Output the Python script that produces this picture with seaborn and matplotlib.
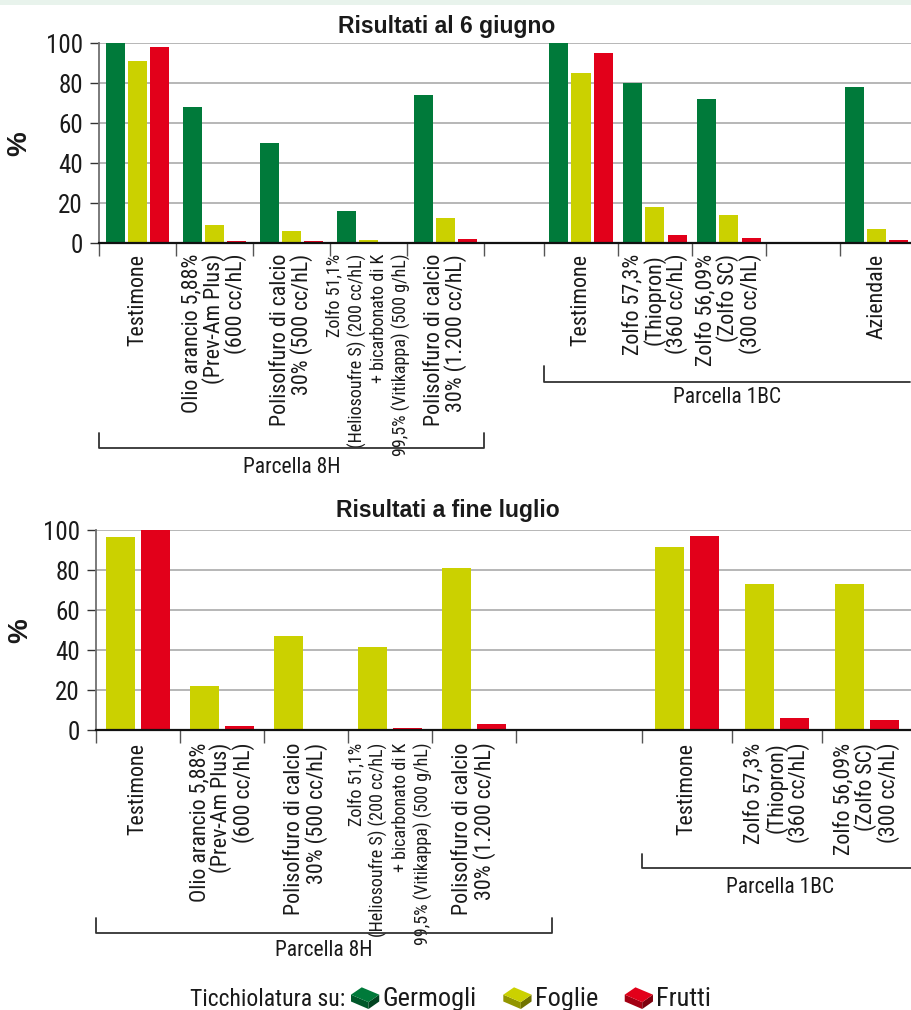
import numpy as np
import pandas as pd
import seaborn as sns
import matplotlib
matplotlib.use("Agg")
import matplotlib.pyplot as plt
from matplotlib.lines import Line2D
from matplotlib.patches import Polygon, Rectangle, Patch
from matplotlib.legend_handler import HandlerBase
from matplotlib.transforms import blended_transform_factory
import matplotlib.colors as mcolors

# ---------------------------------------------------------------- data
trattamenti_8h = [
    "Testimone",
    "Olio arancio 5,88%\n(Prev-Am Plus)\n(600 cc/hL)",
    "Polisolfuro di calcio\n30% (500 cc/hL)",
    "Zolfo 51,1%\n(Heliosoufre S) (200 cc/hL)\n+ bicarbonato di K\n99,5% (Vitikappa) (500 g/hL)",
    "Polisolfuro di calcio\n30% (1.200 cc/hL)",
]
trattamenti_1bc_giugno = [
    "Testimone",
    "Zolfo 57,3%\n(Thiopron)\n(360 cc/hL)",
    "Zolfo 56,09%\n(Zolfo SC)\n(300 cc/hL)",
    "Aziendale",
]
trattamenti_1bc_luglio = trattamenti_1bc_giugno[:3]

# Risultati al 6 giugno (%)
giugno_germogli_8h = [100, 68, 50, 16, 74]
giugno_foglie_8h = [91, 9, 6, 1.8, 12.5]
giugno_frutti_8h = [98, 1.2, 1.2, 0.8, 2.2]
giugno_germogli_1bc = [100, 80, 72, 78]
giugno_foglie_1bc = [85, 18, 14, 7]
giugno_frutti_1bc = [95, 4, 2.7, 1.7]

# Risultati a fine luglio (%)
luglio_foglie_8h = [96.5, 22, 47, 41.8, 81]
luglio_frutti_8h = [100, 2.2, 0.8, 1.3, 3.2]
luglio_foglie_1bc = [91.5, 73, 73]
luglio_frutti_1bc = [97, 6, 5]

parti = ["Germogli", "Foglie", "Frutti"]
colori = {"Germogli": "#007a3a", "Foglie": "#cbd100", "Frutti": "#e2001a"}

# ---------------------------------------------------------------- layout
# width of every slot along the x axis: five 8H slots, a spacer, 1BC slots
slot_giugno = [1, 1, 1, 1, 1, 0.78, 0.96, 0.96, 0.96, 0.96, 0.96]
slot_luglio = [1, 1, 1, 1, 1, 1.5, 1.07, 1.07, 1.07]
idx_giugno_8h = [0, 1, 2, 3, 4]
idx_giugno_1bc = [6, 7, 8, 10]
idx_luglio_8h = [0, 1, 2, 3, 4]
idx_luglio_1bc = [6, 7, 8]

W, H = 911, 1010
TXT = "#1a1a1a"

sns.set_style("white")
COND = ["Roboto Condensed", "Liberation Sans Narrow", "DejaVu Sans"]
BOLD = ["Liberation Sans", "DejaVu Sans"]
plt.rcParams["font.family"] = COND
plt.rcParams["text.color"] = TXT
plt.rcParams["ytick.color"] = "#333333"
plt.rcParams["ytick.labelcolor"] = TXT


def slot_layout(widths):
    edges = np.concatenate([[0.0], np.cumsum(widths)])
    centers = (edges[:-1] + edges[1:]) / 2
    return edges, centers


def build_frame(centers, groups):
    rows = []
    for idx, labels, series in groups:
        for parte, vals in series.items():
            for i, lab, v in zip(idx, labels, vals):
                rows.append({"x": centers[i], "trattamento": lab,
                             "parte": parte, "valore": v})
    return pd.DataFrame(rows)


def fy(px):
    return 1 - px / H


def draw_panel(ax, df, order, width, gap, edges, centers, labels_at, xmax,
               label_offset, ylabel_x):
    sns.barplot(data=df, x="x", y="valore", hue="parte", hue_order=order,
                palette=colori, native_scale=True, width=width, gap=gap,
                saturation=1, linewidth=0, errorbar=None, legend=False, ax=ax)
    ax.set_axisbelow(True)
    ax.set_xlim(0, xmax)
    ax.set_ylim(0, 100)
    ax.set_yticks(range(0, 101, 20))
    ax.yaxis.grid(True, color="#a3a3a3", lw=1.1)
    ax.xaxis.grid(False)
    ax.set_xticks(edges[edges <= xmax + 1e-9])
    ax.set_xticklabels([])
    ax.tick_params(axis="x", bottom=True, length=9.5, width=1.0,
                   color="#555555", direction="out")
    ax.tick_params(axis="y", left=True, length=6.5, width=1.0, pad=5,
                   labelsize=18, direction="out")
    for s in ("top", "right"):
        ax.spines[s].set_visible(False)
    ax.spines["left"].set_color("#707070")
    ax.spines["left"].set_linewidth(1.3)
    ax.spines["bottom"].set_color("#111111")
    ax.spines["bottom"].set_linewidth(1.6)
    ax.set_xlabel("")
    ax.set_ylabel("%", fontsize=20, fontweight="bold", family=BOLD, color=TXT)
    ax.yaxis.set_label_coords(ylabel_x, 0.5)

    tr = blended_transform_factory(ax.transData, ax.transAxes)
    for i, lab in labels_at:
        small = lab.count("\n") >= 3
        ax.text(centers[i], label_offset, lab, transform=tr, rotation=90,
                ha="center", va="top", multialignment="right",
                fontsize=13 if small else 15.8,
                linespacing=1.25 if small else 0.97, color=TXT)


def bracket(fig, ax, x0, x1, y_tick_px, y_line_px, label, y_text_px,
            right_tick=True):
    tr = blended_transform_factory(ax.transData, fig.transFigure)
    xs = [x0, x0, x1] + ([x1] if right_tick else [])
    ys = [fy(y_tick_px), fy(y_line_px), fy(y_line_px)] + \
        ([fy(y_tick_px)] if right_tick else [])
    fig.add_artist(Line2D(xs, ys, transform=tr, color="#333333", lw=1.3))
    fig.text((x0 + x1) / 2, fy(y_text_px), label, transform=tr,
             ha="center", va="baseline", fontsize=15.5, color=TXT)


class BrickHandler(HandlerBase):
    """Legend key drawn as a small 3D brick."""

    def create_artists(self, legend, orig_handle, xdescent, ydescent,
                       width, height, fontsize, trans):
        base = np.array(mcolors.to_rgb(orig_handle.get_facecolor()))
        x0, y0 = -xdescent, -ydescent

        def P(u, v):
            return (x0 + u * width, y0 + v * height)

        top = [P(0, 0.62), P(0.38, 1.05), P(1.0, 0.62), P(0.62, 0.18)]
        left = [P(0, 0.62), P(0.62, 0.18), P(0.62, -0.22), P(0, 0.22)]
        right = [P(0.62, 0.18), P(1.0, 0.62), P(1.0, 0.22), P(0.62, -0.22)]
        arts = []
        for pts, k in ((left, 0.72), (right, 0.55), (top, 1.0)):
            p = Polygon(pts, closed=True, facecolor=np.clip(base * k, 0, 1),
                        edgecolor="none", transform=trans)
            arts.append(p)
        return arts


# ---------------------------------------------------------------- figure
fig = plt.figure(figsize=(W / 100, H / 100), dpi=100)
fig.add_artist(Rectangle((0, fy(5)), 1, 5 / H, transform=fig.transFigure,
                         facecolor="#e8f3ec", edgecolor="none"))

# June panel
edges_g, centers_g = slot_layout(slot_giugno)
ax1 = fig.add_axes([99 / W, fy(243.3), (W - 99) / W, 200 / H])
df_g = build_frame(centers_g, [
    (idx_giugno_8h, trattamenti_8h,
     {"Germogli": giugno_germogli_8h, "Foglie": giugno_foglie_8h,
      "Frutti": giugno_frutti_8h}),
    (idx_giugno_1bc, trattamenti_1bc_giugno,
     {"Germogli": giugno_germogli_1bc, "Foglie": giugno_foglie_1bc,
      "Frutti": giugno_frutti_1bc}),
])
labels_g = list(zip(idx_giugno_8h, trattamenti_8h)) + \
    list(zip(idx_giugno_1bc, trattamenti_1bc_giugno))
draw_panel(ax1, df_g, parti, 0.9, 0.14, edges_g, centers_g, labels_g,
           (W - 99) / 77, -0.053, -(99 - 32) / (W - 99))

# July panel
edges_l, centers_l = slot_layout(slot_luglio)
ax2 = fig.add_axes([96 / W, fy(730.3), (W - 96) / W, 200 / H])
df_l = build_frame(centers_l, [
    (idx_luglio_8h, trattamenti_8h,
     {"Foglie": luglio_foglie_8h, "Frutti": luglio_frutti_8h}),
    (idx_luglio_1bc, trattamenti_1bc_luglio,
     {"Foglie": luglio_foglie_1bc, "Frutti": luglio_frutti_1bc}),
])
labels_l = list(zip(idx_luglio_8h, trattamenti_8h)) + \
    list(zip(idx_luglio_1bc, trattamenti_1bc_luglio))
draw_panel(ax2, df_l, ["Foglie", "Frutti"], 0.833, 0.17, edges_l, centers_l,
           labels_l, (W - 96) / 84, -0.062, -(96 - 33) / (W - 96))

# titles
fig.text(447 / W, fy(33), "Risultati al 6 giugno", ha="center",
         va="baseline", fontsize=16.5, fontweight="bold", family=BOLD)
fig.text(448 / W, fy(516.5), "Risultati a fine luglio", ha="center",
         va="baseline", fontsize=16.5, fontweight="bold", family=BOLD)

# plot-area brackets
bracket(fig, ax1, edges_g[0], edges_g[5], 432.7, 448.3, "Parcella 8H", 473)
bracket(fig, ax1, edges_g[6], edges_g[6] + 366 / 77, 366, 381.7,
        "Parcella 1BC", 403, right_tick=False)
bracket(fig, ax2, edges_l[0], edges_l[5] + 0.43, 918, 933.3, "Parcella 8H", 956)
bracket(fig, ax2, edges_l[6], edges_l[6] + 276 / 84, 854, 868.3,
        "Parcella 1BC", 893, right_tick=False)

# legend
fig.text(190 / W, fy(1006), "Ticchiolatura su:", ha="left", va="baseline",
         fontsize=17)
handles = [Patch(facecolor=colori[p], label=p) for p in parti]
fig.legend(handles=handles, labels=parti, loc="center left",
           bbox_to_anchor=(351 / W, fy(999)), ncol=3, frameon=False,
           fontsize=19, handlelength=1.07, handleheight=0.62,
           handletextpad=0.13, columnspacing=1.0, borderpad=0,
           borderaxespad=0,
           handler_map={Patch: BrickHandler()})

fig.savefig("out.png", dpi=100)
